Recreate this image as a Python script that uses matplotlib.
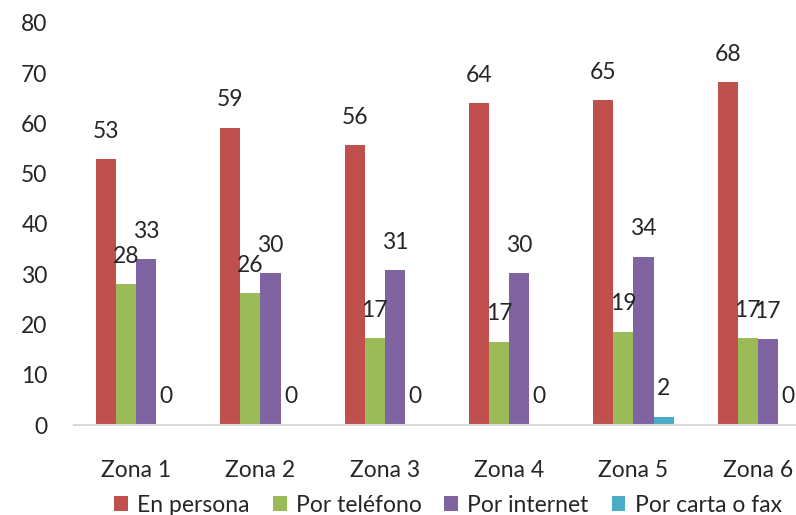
import numpy as np
import matplotlib.pyplot as plt

plt.rcParams['font.family'] = ['Lato', 'DejaVu Sans']

zonas = ['Zona 1', 'Zona 2', 'Zona 3', 'Zona 4', 'Zona 5', 'Zona 6']
series = ['En persona', 'Por teléfono', 'Por internet', 'Por carta o fax']
en_persona = [52.9, 59.2, 55.7, 64.1, 64.7, 68.3]
por_telefono = [28.1, 26.3, 17.3, 16.6, 18.6, 17.3]
por_internet = [33.0, 30.2, 30.8, 30.2, 33.5, 17.1]
por_carta = [0.2, 0.1, 0.1, 0.1, 1.65, 0.2]
colores = ['#C0504D', '#9BBB59', '#8064A2', '#4BACC6']

fig = plt.figure(figsize=(7.96, 5.15), dpi=100)
ax = fig.add_axes([74/796, 90/515, 746/796, 402/515])

x = np.arange(len(zonas))
w = 20/124.3
datos = [en_persona, por_telefono, por_internet, por_carta]
for i, (vals, nombre, c) in enumerate(zip(datos, series, colores)):
    pos = x + (i - 1.5)*w
    ax.bar(pos, vals, w, color=c, label=nombre)
    for p, v in zip(pos, vals):
        ax.annotate('%.0f' % v, (p, v), xytext=(0, 20), textcoords='offset points',
                    ha='center', va='center', fontsize=16.5, color='#262626')

ax.set_xlim(-0.5, 5.5)
ax.set_ylim(0, 80)
ax.set_yticks(range(0, 81, 10))
ax.set_xticks(x)
ax.set_xticklabels(zonas)
for s in ['left', 'right', 'top']:
    ax.spines[s].set_visible(False)
ax.spines['bottom'].set_color('#D9D9D9')
ax.spines['bottom'].set_linewidth(1.5)
ax.tick_params(axis='both', length=0, labelsize=16.5, colors='#262626')
ax.tick_params(axis='y', pad=19)
for t in ax.xaxis.get_major_ticks():
    t.set_pad(25)

# leyenda abajo, pegada al borde como en el original
ax.legend(loc='center', bbox_to_anchor=(374/746, -80/402), ncol=4, frameon=False,
          fontsize=16.5, handlelength=0.6, handleheight=0.6, handletextpad=0.4,
          columnspacing=1.0, labelcolor='#262626')

fig.savefig('out.png', dpi=100)
